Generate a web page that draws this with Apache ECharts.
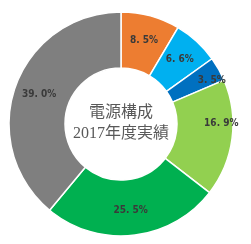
<!DOCTYPE html>
<html><head><meta charset="utf-8">
<script src="https://cdn.jsdelivr.net/npm/echarts@6/dist/echarts.min.js"></script>
<style>html,body{margin:0;padding:0;background:#fff}#c{width:251px;height:244px}</style>
</head><body><div id="c"></div>
<script>
const categories = ['A','B','C','D','E','F'];
const values = [8.5, 6.6, 3.5, 16.9, 25.5, 39.0];
const colors = ['#ED7D31','#00B0F0','#0070C0','#92D050','#00B050','#7F7F7F'];
const centerLines = ['電源構成','2017年度実績'];
const labelShift = {2:[15,-1], 3:[14,-12]};

const chart = echarts.init(document.getElementById('c'), null, {renderer:'canvas'});
chart.setOption({
  animation:false,
  graphic:[{
    type:'text', x:121, y:123,
    style:{text:centerLines.join('\n'), fill:'#595959', font:'16px "Liberation Serif", "Noto Sans CJK JP"',
      align:'center', verticalAlign:'middle', lineHeight:21}
  }],
  series:[{
    type:'pie',
    center:[121,124],
    radius:[56,112],
    startAngle:90,
    clockwise:true,
    avoidLabelOverlap:false,
    itemStyle:{borderColor:'#fff', borderWidth:1.5},
    label:{show:true, position:'inside', color:'#3a3a3a', fontFamily:'"Liberation Sans Narrow","DejaVu Sans Condensed"',
      fontWeight:'bold', fontSize:10,
      formatter:p=>p.value.toFixed(1).replace('.', '. ')+'%'},
    labelLayout:function(p){const s=labelShift[p.dataIndex]; return s?{dx:s[0],dy:s[1]}:{};},
    labelLine:{show:false},
    data:categories.map((c,i)=>({name:c, value:values[i], itemStyle:{color:colors[i]}}))
  }]
});
</script></body></html>
